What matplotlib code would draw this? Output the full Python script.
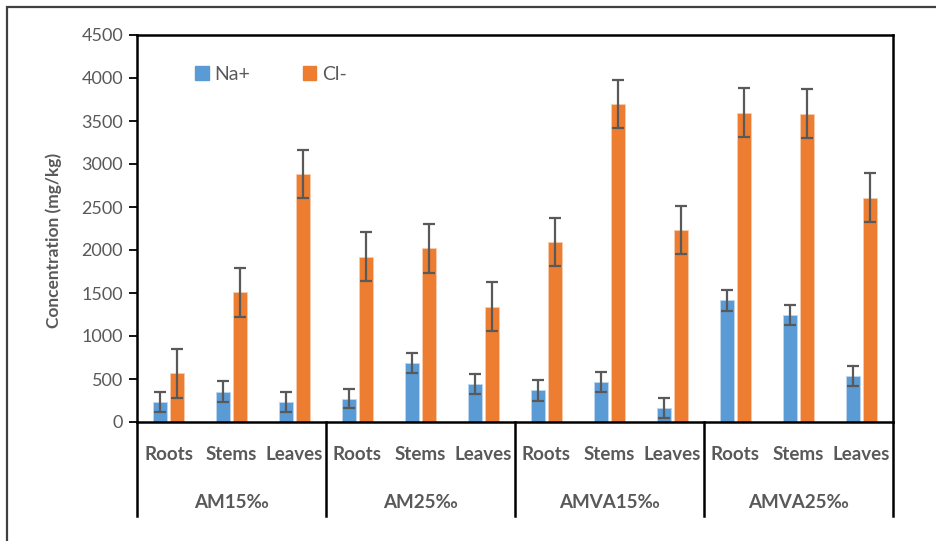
import matplotlib
matplotlib.use("Agg")
import matplotlib.pyplot as plt
from matplotlib.patches import Rectangle, Patch
from matplotlib.transforms import blended_transform_factory
import numpy as np

plt.rcParams['font.family'] = ['Lato', 'DejaVu Sans']

groups = ["AM15‰", "AM25‰", "AMVA15‰", "AMVA25‰"]
organs = ["Roots", "Stems", "Leaves"]
na_values = [235, 352, 236, 272, 685, 438, 368, 462, 165, 1415, 1245, 530]
na_errors = [115, 120, 115, 115, 120, 118, 120, 117, 115, 122, 116, 117]
cl_values = [566, 1510, 2880, 1922, 2018, 1342, 2092, 3700, 2230, 3595, 3585, 2610]
cl_errors = [282, 285, 280, 285, 280, 285, 280, 280, 282, 285, 285, 285]
series_names = ["Na+", "Cl-"]
yticks = [0, 500, 1000, 1500, 2000, 2500, 3000, 3500, 4000, 4500]

W, H = 937, 541
fig = plt.figure(figsize=(W / 100, H / 100), dpi=100)
# outer border
fig.add_artist(Rectangle((7 / W, -0.1), 1.1, (H - 7) / H + 0.1, transform=fig.transFigure,
                         fill=False, edgecolor="#404040", linewidth=1.6))

ax = fig.add_axes([137 / W, (H - 422) / H, (893 - 137) / W, (422 - 35) / H])
n = len(na_values)
x = np.arange(n) + 0.5
bw = 0.222
off = 0.135
blue = "#5B9BD5"
orange = "#ED7D31"
errkw = dict(ecolor="#595959", elinewidth=1.6, capsize=4, capthick=1.6)
ax.bar(x - off, na_values, bw, color=blue, edgecolor="#BDD7EE", linewidth=0.6,
       yerr=na_errors, error_kw=errkw, zorder=2)
ax.bar(x + off, cl_values, bw, color=orange, edgecolor="#F8CBAD", linewidth=0.6,
       yerr=cl_errors, error_kw=errkw, zorder=2)

ax.set_xlim(0, n)
ax.set_ylim(0, 4500)
ax.set_yticks(yticks)
ax.set_yticklabels([str(v) for v in yticks], fontsize=13, color="#595959")
ax.tick_params(axis='y', length=6, width=1.3, direction='out', color='black', pad=4)
ax.set_xticks([])
for s in ax.spines.values():
    s.set_color("black")
    s.set_linewidth(1.8)

tr = blended_transform_factory(ax.transData, ax.transAxes)
ybot = -(516 - 422) / (422 - 35)
for xs in [0, 3, 6, 9, 12]:
    ax.plot([xs, xs], [0, ybot], color="black", linewidth=1.8, transform=tr, clip_on=False)

for i in range(n):
    ax.text(x[i], -(455 - 422) / 387, organs[i % 3], transform=tr, ha="center", va="center",
            fontsize=13.5, fontweight="bold", color="#595959")
for g, name in enumerate(groups):
    ax.text(g * 3 + 1.5, -(502 - 422) / 387, name, transform=tr, ha="center", va="center",
            fontsize=13.5, fontweight="bold", color="#595959")

fig.text(54 / W, (H - 240) / H, "Concentration (mg/kg)", rotation=90, ha="center", va="center",
         fontsize=12.5, fontweight="bold", color="#595959")

handles = [Patch(facecolor=blue, edgecolor=blue), Patch(facecolor=orange, edgecolor=orange)]
leg = ax.legend(handles, series_names, loc="center left",
                bbox_to_anchor=((195 - 137) / 756, (422 - 74) / 387), ncol=2, frameon=False,
                handlelength=0.7, handleheight=0.7, handletextpad=0.3, columnspacing=2.7,
                borderpad=0, borderaxespad=0, prop={'size': 14})
for t in leg.get_texts():
    t.set_color("#595959")

fig.savefig("out.png", dpi=100)
